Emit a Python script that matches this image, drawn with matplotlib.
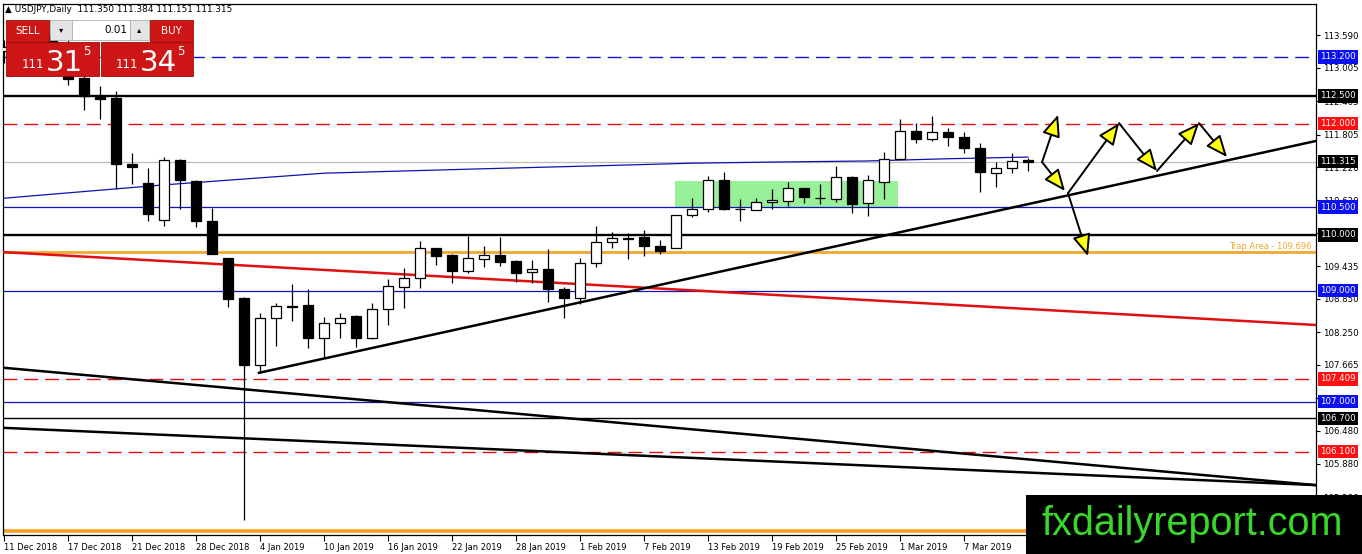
import matplotlib
matplotlib.use("Agg")
import matplotlib.pyplot as plt
from matplotlib.patches import Rectangle, FancyArrowPatch
from matplotlib.transforms import blended_transform_factory

# daily USDJPY bars, index 0 = 11 Dec 2018, last = 13 Mar 2019
opens = [113.30, 113.38, 113.53, 113.60, 113.39, 112.82, 112.48, 112.46, 111.28, 110.93,
         110.27, 111.35, 110.97, 110.25, 109.58, 108.87, 107.66, 108.51, 108.73, 108.74,
         108.15, 108.42, 108.54, 108.15, 108.67, 109.06, 109.23, 109.76, 109.64, 109.35,
         109.57, 109.64, 109.53, 109.33, 109.39, 109.03, 108.87, 109.49, 109.87, 109.94,
         109.96, 109.80, 109.76, 110.36, 110.47, 110.99, 110.47, 110.45, 110.59, 110.61,
         110.84, 110.67, 110.65, 111.04, 110.57, 110.95, 111.37, 111.87, 111.73, 111.85,
         111.76, 111.56, 111.11, 111.20, 111.350]
highs = [113.50, 113.70, 113.75, 113.70, 113.50, 112.95, 112.68, 112.59, 111.47, 111.20,
         111.40, 111.36, 110.98, 110.48, 109.59, 108.88, 108.60, 108.78, 109.12, 109.03,
         108.52, 108.60, 108.56, 108.78, 109.21, 109.41, 109.89, 109.77, 109.65, 109.98,
         109.80, 109.96, 109.55, 109.55, 109.75, 109.06, 109.58, 110.16, 110.05, 110.03,
         110.09, 109.91, 110.36, 110.66, 111.06, 111.13, 110.65, 110.66, 110.83, 110.95,
         110.85, 110.92, 111.24, 111.06, 111.08, 111.49, 112.08, 112.01, 112.14, 111.92,
         111.85, 111.65, 111.31, 111.47, 111.384]
lows = [113.10, 113.25, 113.40, 113.30, 112.70, 112.25, 112.08, 110.83, 110.92, 110.25,
        110.16, 110.47, 110.14, 109.65, 108.70, 104.87, 107.52, 108.00, 108.45, 107.97,
        107.79, 108.15, 107.98, 108.13, 108.38, 108.69, 109.05, 109.46, 109.14, 109.32,
        109.42, 109.44, 109.15, 109.14, 108.79, 108.51, 108.76, 109.42, 109.76, 109.57,
        109.62, 109.66, 109.76, 110.32, 110.41, 110.45, 110.25, 110.45, 110.47, 110.52,
        110.57, 110.56, 110.59, 110.39, 110.34, 110.65, 111.36, 111.65, 111.69, 111.60,
        111.47, 110.77, 110.86, 111.11, 111.151]
closes = [113.38, 113.53, 113.60, 113.39, 112.80, 112.50, 112.44, 111.28, 111.22, 110.38,
          111.35, 110.99, 110.25, 109.66, 108.85, 107.66, 108.51, 108.72, 108.71, 108.15,
          108.42, 108.51, 108.15, 108.67, 109.08, 109.23, 109.76, 109.62, 109.35, 109.58,
          109.64, 109.51, 109.32, 109.39, 109.03, 108.87, 109.49, 109.87, 109.94, 109.93,
          109.80, 109.71, 110.36, 110.47, 110.99, 110.47, 110.46, 110.59, 110.63, 110.84,
          110.68, 110.66, 111.04, 110.56, 110.99, 111.37, 111.87, 111.73, 111.85, 111.76,
          111.56, 111.13, 111.20, 111.33, 111.315]

date_ticks = list(range(0, 61, 4))
date_labels = ['11 Dec 2018', '17 Dec 2018', '21 Dec 2018', '28 Dec 2018', '4 Jan 2019',
               '10 Jan 2019', '16 Jan 2019', '22 Jan 2019', '28 Jan 2019', '1 Feb 2019',
               '7 Feb 2019', '13 Feb 2019', '19 Feb 2019', '25 Feb 2019', '1 Mar 2019',
               '7 Mar 2019']
price_ticks = [113.590, 113.005, 112.405, 111.805, 111.220, 110.620, 110.035, 109.435,
               108.850, 108.250, 107.665, 107.065, 106.480, 105.880, 105.280]

# horizontal levels with their right-hand price tags
levels = [113.200, 112.500, 112.000, 111.315, 110.500, 110.000, 109.000, 107.409, 107.000, 106.700, 106.100]
level_kind = ['blue_dash', 'black_thick', 'red_dash', 'price', 'blue', 'black_thick',
              'blue', 'red_dash', 'blue', 'black', 'red_dash']
trap_level = 109.696
bottom_level = 104.67

# moving average (blue curve)
ma_x = [0, 10, 20, 30, 38, 43, 48, 54, 59, 64]
ma_y = [110.66, 110.90, 111.11, 111.19, 111.25, 111.29, 111.31, 111.33, 111.37, 111.40]

# trend lines (bar index, price)
red_trend = ([0, 82], [109.69, 108.38])
support = ([15.94, 82], [107.52, 111.69])
upper_fall = ([0, 82], [107.61, 105.50])
lower_fall = ([0, 82], [106.53, 105.50])

# consolidation box
box_x0, box_x1 = 41.94, 55.88
box_lo, box_hi = 110.50, 110.97

# projected path arrows
arrow_from = [(64.88, 111.31), (64.88, 111.31), (66.5, 110.75), (69.69, 112.01),
              (72.06, 111.15), (74.69, 112.01), (66.5, 110.75)]
arrow_to = [(65.88, 112.16), (66.31, 110.79), (69.69, 112.01), (72.06, 111.15),
            (74.69, 112.01), (76.44, 111.40), (67.75, 109.62)]

W, H = 1362, 554
fig = plt.figure(figsize=(W / 100, H / 100), dpi=100)
ax = fig.add_axes([3 / W, 1 - 535 / H, (1316 - 3) / W, (535 - 4) / H])
ax.set_xlim(-0.06, 82.0)
ax.set_ylim(104.603, 114.153)

styles = {
    'blue_dash': dict(color='#1414c8', lw=1.0, ls=(0, (10, 5))),
    'black_thick': dict(color='black', lw=1.7, ls='-'),
    'red_dash': dict(color='#dd1010', lw=1.0, ls=(0, (10, 5))),
    'price': dict(color='#bcbcbc', lw=0.9, ls='-'),
    'blue': dict(color='#1414b4', lw=0.9, ls='-'),
    'black': dict(color='black', lw=1.0, ls='-'),
}
tag_colors = {'blue_dash': '#0a10f0', 'blue': '#0a10f0', 'black_thick': 'black',
              'black': 'black', 'price': 'black', 'red_dash': '#ff1010'}

for lv, kind in zip(levels, level_kind):
    ax.axhline(lv, zorder=2, **styles[kind])
ax.axhline(trap_level, color='#f0a830', lw=2.0, zorder=2)
ax.axhline(bottom_level, color='#f5a020', lw=2.6, zorder=2)

ax.add_patch(Rectangle((box_x0, box_lo), box_x1 - box_x0, box_hi - box_lo,
                       fc='#98f098', ec='none', zorder=1))

ax.plot(ma_x, ma_y, color='#1010b0', lw=0.9, zorder=3)
ax.plot(*red_trend, color='#e01010', lw=1.8, zorder=3)
ax.plot(*support, color='black', lw=1.8, zorder=3)
ax.plot(*upper_fall, color='black', lw=1.8, zorder=3)
ax.plot(*lower_fall, color='black', lw=1.8, zorder=3)

# candles
idx = list(range(len(opens)))
ax.vlines(idx, lows, highs, color='black', lw=0.9, zorder=4)
body_lo = [min(o, c) for o, c in zip(opens, closes)]
body_h = [max(abs(c - o), 0.005) for o, c in zip(opens, closes)]
fills = ['white' if c > o else 'black' for o, c in zip(opens, closes)]
ax.bar(idx, body_h, bottom=body_lo, width=0.64, color=fills, edgecolor='black',
       linewidth=0.9, zorder=5)

for p0, p1 in zip(arrow_from, arrow_to):
    ax.add_patch(FancyArrowPatch(p0, p1, arrowstyle='-|>,head_length=0.95,head_width=0.4',
                                 mutation_scale=14, fc='#ffff10', ec='black', lw=1.4,
                                 shrinkA=0, shrinkB=0, zorder=8))

ax.text(0.9965, trap_level + 0.02, f'Trap Area - {trap_level:.3f}', transform=blended_transform_factory(ax.transAxes, ax.transData),
        ha='right', va='bottom', fontsize=6, color='#f0a830', zorder=6)

# axes styling
for sp in ax.spines.values():
    sp.set_color('black')
    sp.set_linewidth(0.9)
ax.yaxis.tick_right()
ax.set_yticks(price_ticks)
ax.set_yticklabels([f'{v:.3f}' for v in price_ticks])
ax.tick_params(axis='y', direction='out', length=3, pad=2, labelsize=6.2)
ax.set_xticks(date_ticks)
ax.set_xticklabels(date_labels, ha='left')
ax.tick_params(axis='x', direction='out', length=4, pad=1.5, labelsize=6)

tr = blended_transform_factory(ax.transAxes, ax.transData)
for lv, kind in zip(levels, level_kind):
    ax.text(1.003, lv, f'{lv:.3f}', transform=tr, ha='left', va='center', fontsize=6.2,
            color='white', clip_on=False, zorder=20,
            bbox=dict(boxstyle='square,pad=0.25', fc=tag_colors[kind], ec='none'))

# overlay in pixel space: trade panel, header and watermark
ov = fig.add_axes([0, 0, 1, 1], zorder=10)
ov.set_xlim(0, W)
ov.set_ylim(H, 0)
ov.axis('off')
ov.patch.set_visible(False)

header = f'\u25b2 USDJPY,Daily  {opens[-1]:.3f} {highs[-1]:.3f} {lows[-1]:.3f} {closes[-1]:.3f}'
ov.text(5, 10, header, fontsize=6.4, va='center', ha='left', color='black')

panel_red = '#cf1616'
ov.add_patch(Rectangle((6, 20), 43, 22, fc=panel_red, ec='#9a0c0c', lw=0.6))
ov.add_patch(Rectangle((150, 20), 43, 22, fc=panel_red, ec='#9a0c0c', lw=0.6))
ov.text(27.5, 31, 'SELL', color='white', fontsize=7.5, ha='center', va='center')
ov.text(171.5, 31, 'BUY', color='white', fontsize=7.5, ha='center', va='center')
ov.add_patch(Rectangle((50, 20), 22, 20, fc='#e4e4e4', ec='#b0b0b0', lw=0.6))
ov.add_patch(Rectangle((72, 20), 58, 20, fc='white', ec='#b0b0b0', lw=0.6))
ov.add_patch(Rectangle((130, 20), 19, 20, fc='#e4e4e4', ec='#b0b0b0', lw=0.6))
ov.text(61, 30, '\u25be', fontsize=6, ha='center', va='center')
ov.text(139.5, 30, '\u25b4', fontsize=6, ha='center', va='center')
ov.text(127, 30, '0.01', fontsize=7.5, ha='right', va='center')

ov.add_patch(Rectangle((6, 42), 93, 34, fc=panel_red, ec='#9a0c0c', lw=0.6))
ov.add_patch(Rectangle((101, 42), 92, 34, fc=panel_red, ec='#9a0c0c', lw=0.6))
sell_txt = f'{closes[-1]:.4f}'.replace('.', '')  # 1113150
buy_txt = '1113450'
for x0, s in ((22, sell_txt), (116, buy_txt)):
    ov.text(x0, 68, s[:3], color='white', fontsize=8.5, ha='left', va='baseline')
    ov.text(x0 + 24, 71, s[3:5], color='white', fontsize=21, ha='left', va='baseline')
    ov.text(x0 + 61, 55, s[5], color='white', fontsize=8.5, ha='left', va='baseline')

ov.add_patch(Rectangle((1026, 495), W - 1026, H - 495, fc='black', ec='none'))
ov.text(1192.5, 535, 'fxdailyreport.com', color='#38d82a', fontsize=28.5,
        family='Liberation Sans', ha='center', va='baseline')

fig.savefig('out.png', dpi=100, facecolor='white')
